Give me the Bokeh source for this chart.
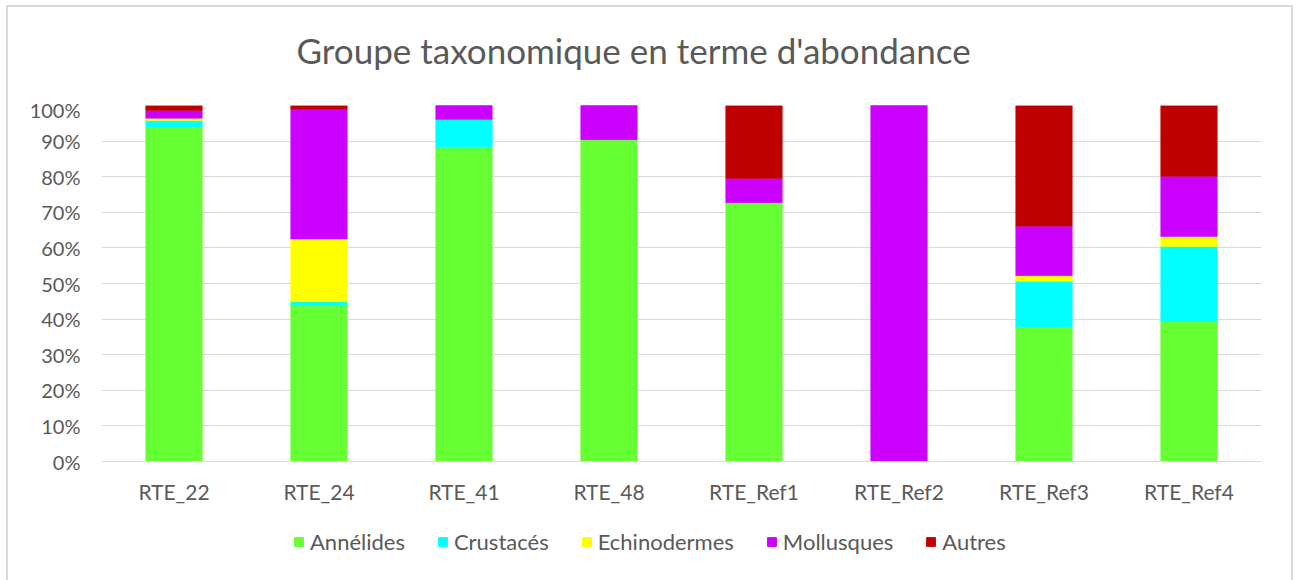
from bokeh.plotting import figure
from bokeh.layouts import column
from bokeh.models import ColumnDataSource, Legend, LegendItem, NumeralTickFormatter, FixedTicker, Range1d, Label
from bokeh.embed import file_html
from bokeh.resources import INLINE

stations = ["RTE_22", "RTE_24", "RTE_41", "RTE_48", "RTE_Ref1", "RTE_Ref2", "RTE_Ref3", "RTE_Ref4"]
annelides = [0.939, 0.438, 0.881, 0.904, 0.727, 0.0, 0.377, 0.394]
crustaces = [0.019, 0.011, 0.080, 0.0, 0.0, 0.0, 0.129, 0.210]
echinodermes = [0.006, 0.176, 0.0, 0.0, 0.0, 0.0, 0.016, 0.028]
mollusques = [0.022, 0.365, 0.039, 0.096, 0.068, 1.0, 0.139, 0.169]
autres = [0.014, 0.010, 0.0, 0.0, 0.205, 0.0, 0.339, 0.199]

groups = ["Annélides", "Crustacés", "Echinodermes", "Mollusques", "Autres"]
colors = ["#66FF33", "#00FFFF", "#FFFF00", "#CC00FF", "#C00000"]
title = "Groupe taxonomique en terme d'abondance"
yticks = [0, 0.1, 0.2, 0.3, 0.4, 0.5, 0.6, 0.7, 0.8, 0.9, 1.0]

src = ColumnDataSource(dict(x=stations, **{g: v for g, v in zip(groups, [annelides, crustaces, echinodermes, mollusques, autres])}))

FONT = "Lato"
TXT = "#595959"
W = 1283


def strip(height):
    f = figure(x_range=Range1d(0, 1160), y_range=Range1d(0, height), width=W, height=height,
               output_backend="svg", toolbar_location=None,
               min_border_left=0, min_border_right=0, min_border_top=0, min_border_bottom=0)
    f.axis.visible = False
    f.grid.visible = False
    f.outline_line_color = None
    return f


# title strip
t = strip(90)
t.add_layout(Label(x=195, y=48, text=title, text_align="left", text_baseline="middle",
                   text_font=FONT, text_font_size="35px", text_color=TXT))

# main chart
p = figure(x_range=stations, y_range=Range1d(0, 1), width=W, height=420,
           output_backend="svg", toolbar_location=None,
           min_border_left=93, min_border_right=30, min_border_top=8, min_border_bottom=56)
p.x_range.range_padding = 0
p.outline_line_color = None

renderers = p.vbar_stack(groups, x="x", width=0.39, source=src, color=colors, line_color=colors, line_width=0.5)

p.yaxis.ticker = FixedTicker(ticks=yticks)
p.yaxis.formatter = NumeralTickFormatter(format="0%")
p.yaxis.axis_line_color = None
p.yaxis.major_tick_line_color = None
p.yaxis.minor_tick_line_color = None
p.yaxis.major_label_text_font = FONT
p.yaxis.major_label_text_font_size = "20px"
p.yaxis.major_label_text_color = TXT
p.yaxis.major_label_standoff = 15

p.xaxis.axis_line_color = "#D9D9D9"
p.xaxis.major_tick_line_color = None
p.xaxis.minor_tick_line_color = None
p.xaxis.major_label_text_font = FONT
p.xaxis.major_label_text_font_size = "21px"
p.xaxis.major_label_text_color = TXT
p.xaxis.major_label_standoff = 11

p.xgrid.grid_line_color = None
p.ygrid.grid_line_color = "#D9D9D9"
p.ygrid.grid_line_width = 1

# legend strip below the chart
q = strip(63)
dummies = [q.rect(x=[-100], y=[-100], width=1, height=1, color=c) for c in colors]

legend = Legend(items=[LegendItem(label=g, renderers=[r]) for g, r in zip(groups, dummies)],
                orientation="horizontal", location=(192, 25))
legend.label_text_font = FONT
legend.label_text_font_size = "22px"
legend.label_text_color = TXT
legend.glyph_width = 11
legend.glyph_height = 11
legend.label_standoff = 6
legend.spacing = 32
legend.padding = 0
legend.margin = 0
legend.border_line_color = None
legend.background_fill_alpha = 0
q.add_layout(legend)

layout = column(t, p, q, spacing=0)
layout.styles = {"margin-left": "6px", "margin-top": "5px",
                 "border-top": "2px solid #D9D9D9", "border-left": "2px solid #D9D9D9",
                 "border-right": "2px solid #D9D9D9"}

open("out.html", "w").write(file_html(layout, INLINE))
